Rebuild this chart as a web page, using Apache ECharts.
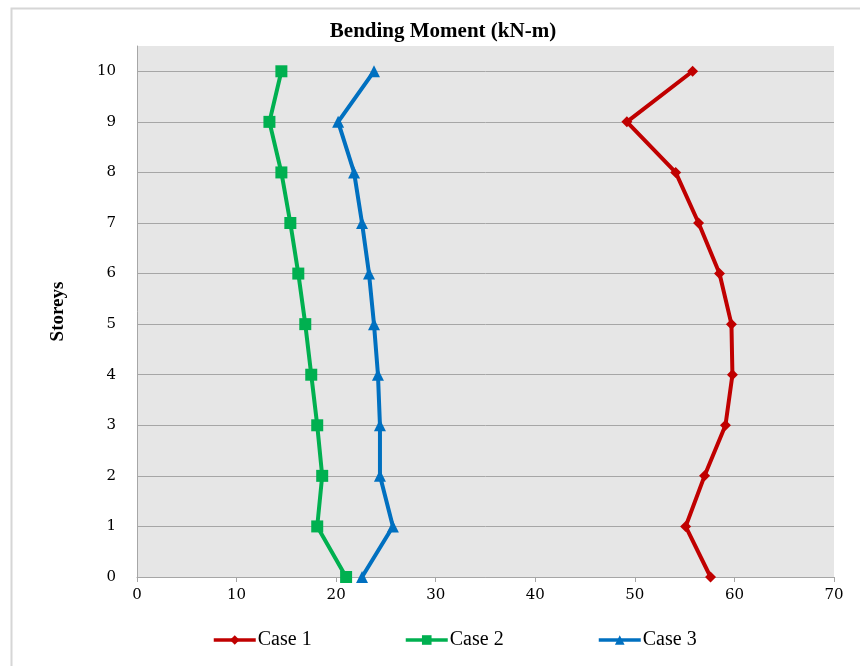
<!DOCTYPE html>
<html>
<head>
<meta charset="utf-8">
<script src="https://cdn.jsdelivr.net/npm/echarts@6/dist/echarts.min.js"></script>
<style>html,body{margin:0;padding:0;background:#fff}#c{width:860px;height:666px}</style>
</head>
<body>
<div id="c"></div>
<script>
const storeys = [0, 1, 2, 3, 4, 5, 6, 7, 8, 9, 10];
const case1 = [57.6, 55.1, 57.0, 59.1, 59.8, 59.7, 58.5, 56.4, 54.1, 49.2, 55.8];
const case2 = [21.0, 18.1, 18.6, 18.1, 17.5, 16.9, 16.2, 15.4, 14.5, 13.3, 14.5];
const case3 = [22.6, 25.7, 24.4, 24.4, 24.2, 23.8, 23.3, 22.6, 21.8, 20.2, 23.8];
const seriesNames = ['Case 1', 'Case 2', 'Case 3'];
const xTicks = [0, 10, 20, 30, 40, 50, 60, 70];

const pairs = vals => vals.map((v, i) => [v, storeys[i]]);
const serif = '"Liberation Serif", "DejaVu Serif", serif';
const tickFont = '"DejaVu Serif", serif';

const chart = echarts.init(document.getElementById('c'), null, {renderer: 'canvas'});
const legendBase = {
  top: 625, itemWidth: 42, itemHeight: 12, itemGap: 0,
  lineStyle: {width: 3.5},
  textStyle: {fontFamily: serif, fontSize: 20, color: '#000', padding: [0, 0, 0, -3]}
};
chart.setOption({
  animation: false,
  backgroundColor: '#fff',
  graphic: [{
    type: 'rect', left: 9, top: 6, shape: {x: 0, y: 0, width: 900, height: 700},
    style: {fill: 'none', stroke: '#d6d6d6', lineWidth: 2}, silent: true, z: -1
  }],
  title: {
    text: 'Bending Moment (kN-m)', left: 438, top: 16, textAlign: 'center',
    textStyle: {fontFamily: serif, fontSize: 21, fontWeight: 'bold', color: '#000'}
  },
  legend: [
    Object.assign({}, legendBase, {left: 207, data: [seriesNames[0]]}),
    Object.assign({}, legendBase, {left: 399, data: [seriesNames[1]]}),
    Object.assign({}, legendBase, {left: 592, data: [seriesNames[2]]})
  ],
  grid: {
    left: 137, top: 46, right: 26, bottom: 89, show: true,
    backgroundColor: '#e6e6e6', borderWidth: 0
  },
  xAxis: {
    type: 'value', min: xTicks[0], max: xTicks[xTicks.length - 1], interval: 10,
    axisLine: {show: true, lineStyle: {color: '#a6a6a6', width: 1}},
    axisTick: {show: true, length: 5, lineStyle: {color: '#a6a6a6'}},
    axisLabel: {fontFamily: tickFont, fontSize: 15, color: '#000', margin: 11},
    splitLine: {show: false}
  },
  yAxis: {
    type: 'value', min: 0, max: 10.5, interval: 1,
    name: 'Storeys', nameLocation: 'middle', nameGap: 69, nameRotate: 90,
    nameTextStyle: {fontFamily: serif, fontSize: 19, fontWeight: 'bold', color: '#000'},
    axisLine: {show: true, lineStyle: {color: '#a6a6a6', width: 1}},
    axisTick: {show: false},
    axisLabel: {
      fontFamily: tickFont, fontSize: 15, color: '#000', margin: 21, showMaxLabel: false,
      formatter: v => (Number.isInteger(v) ? String(v) : '')
    },
    splitLine: {show: true, showMaxLine: false, lineStyle: {color: '#a6a6a6', width: 1}}
  },
  series: [
    {
      name: seriesNames[0], type: 'line', data: pairs(case1),
      symbol: 'diamond', symbolSize: 11,
      lineStyle: {color: '#c00000', width: 4},
      itemStyle: {color: '#c00000'}
    },
    {
      name: seriesNames[1], type: 'line', data: pairs(case2),
      symbol: 'rect', symbolSize: 12,
      lineStyle: {color: '#00b050', width: 4},
      itemStyle: {color: '#00b050'}
    },
    {
      name: seriesNames[2], type: 'line', data: pairs(case3),
      symbol: 'triangle', symbolSize: 12,
      lineStyle: {color: '#0070c0', width: 4},
      itemStyle: {color: '#0070c0'}
    }
  ]
});
</script>
</body>
</html>
